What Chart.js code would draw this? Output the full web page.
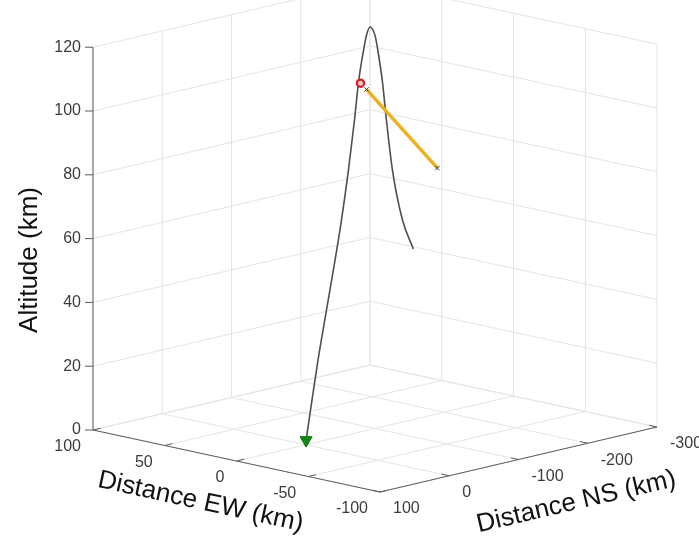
<!DOCTYPE html>
<html>
<head>
<meta charset="utf-8">
<script src="https://cdn.jsdelivr.net/npm/chart.js@4.4.1/dist/chart.umd.min.js"></script>
<style>
  html, body { margin: 0; padding: 0; background: #ffffff; }
  canvas { display: block; }
</style>
</head>
<body>
<canvas id="c" width="699" height="548"></canvas>
<script>
// ---------- data ----------
const ewTicks  = [100, 50, 0, -50, -100];
const nsTicks  = [100, 0, -100, -200, -300];
const altTicks = [0, 20, 40, 60, 80, 100, 120];

const trajEW  = [7, 7, 7, 7, 7, 7, 7, 7, 7, 7, 7, 7, 7, 7, 7, 7, 7, 7, 7];
const trajNS  = [-15.0, -21.4, -32.2, -44.5, -56.8, -66.1, -76.2, -84.9, -90.7, -98.6,
                 -102.2, -107.3, -114.4, -118.1, -125.3, -131.0, -139.7, -154.2, -170.0];
const trajAlt = [0, 9.1, 24.2, 39.3, 54.3, 66.4, 81.6, 96.8, 108.4, 118.7,
                 122.5, 124.8, 121.9, 117.6, 106.6, 94.4, 78.3, 61.9, 52.0];

const redMarkEW = [7];
const redMarkNS = [-93.5];
const redMarkAlt = [107.9];

const losEW  = [7, 7];
const losNS  = [-102.2, -204.7];
const losAlt = [105.5, 75.6];

const groundEW = [7];
const groundNS = [-15.0];
const groundAlt = [0];

const xLabel = 'Distance EW (km)';
const yLabel = 'Distance NS (km)';
const zLabel = 'Altitude (km)';

// ---------- view projection (3D -> canvas) ----------
const EWMAX = ewTicks[0], NSMAX = nsTicks[0];
function proj(ew, ns, z) {
  const u = EWMAX - ew, v = NSMAX - ns;
  return { x: 93 + u * 1.435 + v * 0.6925, y: 430 + u * 0.31 - v * 0.1625 - z * 3.19 };
}
const ewMin = ewTicks[ewTicks.length - 1], nsMin = nsTicks[nsTicks.length - 1];
const zMin = altTicks[0], zMax = altTicks[altTicks.length - 1];

const GRID = '#e4e4e4';
const AXIS = '#5c5c5c';
const datasets = [];
function seg(p, q, color, width, order) {
  datasets.push({ data: [p, q], borderColor: color, borderWidth: width, pointRadius: 0,
                  showLine: true, fill: false, order: order, tension: 0 });
}
// floor grid
ewTicks.forEach(e => seg(proj(e, NSMAX, 0), proj(e, nsMin, 0), GRID, 1, 20));
nsTicks.forEach(n => seg(proj(EWMAX, n, 0), proj(ewMin, n, 0), GRID, 1, 20));
// left wall (EW = max)
altTicks.forEach(z => seg(proj(EWMAX, NSMAX, z), proj(EWMAX, nsMin, z), GRID, 1, 20));
nsTicks.forEach(n => seg(proj(EWMAX, n, zMin), proj(EWMAX, n, zMax), GRID, 1, 20));
// back wall (NS = min)
altTicks.forEach(z => seg(proj(EWMAX, nsMin, z), proj(ewMin, nsMin, z), GRID, 1, 20));
ewTicks.forEach(e => seg(proj(e, nsMin, zMin), proj(e, nsMin, zMax), GRID, 1, 20));
// axes
seg(proj(EWMAX, NSMAX, zMin), proj(EWMAX, NSMAX, zMax), AXIS, 1, 15);
seg(proj(EWMAX, NSMAX, 0), proj(ewMin, NSMAX, 0), AXIS, 1, 15);
seg(proj(ewMin, NSMAX, 0), proj(ewMin, nsMin, 0), AXIS, 1, 15);

// trajectory
datasets.push({
  data: trajEW.map((e, i) => proj(e, trajNS[i], trajAlt[i])),
  borderColor: '#4f4f4f', borderWidth: 1.6, pointRadius: 0, showLine: true,
  fill: false, cubicInterpolationMode: 'monotone', order: 5
});
// line of sight
datasets.push({
  data: losEW.map((e, i) => proj(e, losNS[i], losAlt[i])),
  borderColor: '#EDB120', borderWidth: 3.5, showLine: true, fill: false, tension: 0,
  pointStyle: 'crossRot', pointRadius: 3, pointBorderColor: '#3a3a3a', pointBorderWidth: 1,
  pointBackgroundColor: '#3a3a3a', order: 4
});
// red marker
datasets.push({
  data: redMarkEW.map((e, i) => proj(e, redMarkNS[i], redMarkAlt[i])),
  showLine: false, pointStyle: 'circle', pointRadius: 3.6, pointBorderWidth: 2.2,
  pointBorderColor: '#d11f2a', pointBackgroundColor: '#f6c4c4', order: 2
});
// ground marker
datasets.push({
  data: groundEW.map((e, i) => proj(e, groundNS[i], groundAlt[i])),
  showLine: false, pointStyle: 'triangle', pointRotation: 180, pointRadius: 7,
  pointBorderWidth: 1, pointBorderColor: '#0d7d0d', pointBackgroundColor: '#118811', order: 1
});

const FONT = '"Liberation Sans", Arial, Helvetica, sans-serif';
const labelsPlugin = {
  id: 'labels3d',
  afterDatasetsDraw(chart) {
    const ctx = chart.ctx;
    ctx.save();
    ctx.strokeStyle = AXIS; ctx.lineWidth = 1;
    altTicks.forEach(z => {
      const p = proj(EWMAX, NSMAX, z);
      ctx.beginPath(); ctx.moveTo(p.x - 8, p.y); ctx.lineTo(p.x, p.y); ctx.stroke();
    });
    ewTicks.forEach(e => {
      const p = proj(e, NSMAX, 0);
      ctx.beginPath(); ctx.moveTo(p.x, p.y); ctx.lineTo(p.x + 7.8, p.y - 1.8); ctx.stroke();
    });
    nsTicks.forEach(n => {
      const p = proj(ewMin, n, 0);
      ctx.beginPath(); ctx.moveTo(p.x, p.y); ctx.lineTo(p.x - 7.8, p.y - 1.7); ctx.stroke();
    });
    ctx.fillStyle = '#3c3c3c';
    ctx.font = '16px ' + FONT;
    ctx.textBaseline = 'middle';
    ctx.textAlign = 'right';
    altTicks.forEach(z => {
      const p = proj(EWMAX, NSMAX, z);
      ctx.fillText(String(z), p.x - 12, p.y);
    });
    ewTicks.forEach(e => {
      const p = proj(e, NSMAX, 0);
      ctx.fillText(String(e), p.x - 12, p.y + 17);
    });
    ctx.textAlign = 'left';
    nsTicks.forEach(n => {
      const p = proj(ewMin, n, 0);
      ctx.fillText(String(n), p.x + 13, p.y + 17);
    });
    ctx.fillStyle = '#111111';
    ctx.font = '26px ' + FONT;
    ctx.textAlign = 'center';
    ctx.textBaseline = 'alphabetic';
    ctx.save(); ctx.translate(37, 260); ctx.rotate(-Math.PI / 2); ctx.fillText(zLabel, 0, 0); ctx.restore();
    ctx.save(); ctx.translate(199, 509); ctx.rotate(12.2 * Math.PI / 180); ctx.fillText(xLabel, 0, 0); ctx.restore();
    ctx.save(); ctx.translate(578, 509); ctx.rotate(-13.2 * Math.PI / 180); ctx.fillText(yLabel, 0, 0); ctx.restore();
    ctx.restore();
  }
};

new Chart(document.getElementById('c'), {
  type: 'scatter',
  data: { datasets: datasets },
  options: {
    responsive: false, animation: false, devicePixelRatio: 1,
    layout: { padding: 0, autoPadding: false },
    plugins: { legend: { display: false }, tooltip: { enabled: false } },
    scales: {
      x: { type: 'linear', min: 0, max: 699, display: false },
      y: { type: 'linear', min: 0, max: 548, reverse: true, display: false }
    }
  },
  plugins: [labelsPlugin]
});
</script>
</body>
</html>
